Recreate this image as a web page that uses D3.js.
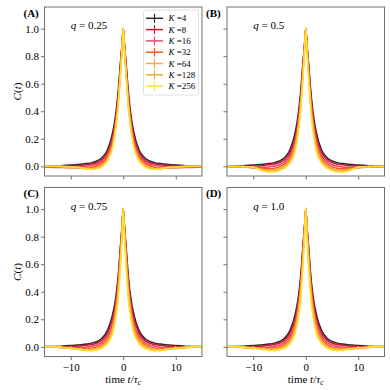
<!DOCTYPE html>
<html><head><meta charset="utf-8">
<script src="https://cdn.jsdelivr.net/npm/d3@7"></script>
<style>body{margin:0;background:#fff}svg{display:block}text{font-family:"Liberation Serif","Times New Roman",serif !important;fill:#000}</style>
</head><body><svg id="c" width="390" height="390"></svg>
<script>
const times = [-15,-12,-10,-8,-7,-6,-5,-4,-3,-2,-1.5,-1,-0.5,-0.25,0,0.25,0.5,1,1.5,2,3,4,5,6,7,8,10,12,15];
const Ks = [4,8,16,32,64,128,256];
const colors = ["#2b2b2b","#c8162a","#e9486c","#ff5420","#ffa54a","#e8b02c","#ffe12e"];
const panelLabels = ["(A)","(B)","(C)","(D)"];
const qValues = ["0.25","0.5","0.75","1.0"];
const xTicks = [-10,0,10];
const yTicks = [0,0.2,0.4,0.6,0.8,1.0];

const a4 = [.002,.005,.009,.015,.02,.027,.04,.065,.12,.25,.36,.53,.77,.88,1,.88,.77,.53,.36,.25,.12,.065,.04,.027,.02,.015,.009,.005,.002];
const a8 = [0,0,.003,.008,.012,.018,.028,.05,.1,.22,.33,.5,.75,.87,1,.87,.75,.5,.33,.22,.1,.05,.028,.018,.012,.008,.003,0,0];
const a16 = [-.004,-.008,-.006,-.002,.002,.007,.017,.038,.085,.2,.31,.48,.73,.86,1,.86,.73,.48,.31,.2,.085,.038,.017,.007,.002,-.002,-.006,-.008,-.004];
const a32 = [-.002,-.005,-.01,-.012,-.012,-.008,.004,.025,.07,.18,.29,.46,.72,.85,1,.85,.72,.46,.29,.18,.07,.025,.004,-.008,-.012,-.012,-.01,-.005,-.002];
const a64 = [0,-.003,-.007,-.014,-.018,-.016,-.008,.012,.055,.16,.27,.44,.7,.84,1,.84,.7,.44,.27,.16,.055,.012,-.008,-.016,-.018,-.014,-.007,-.003,0];
const a128 = [0,0,-.005,-.012,-.018,-.02,-.014,.005,.045,.15,.26,.43,.69,.83,1,.83,.69,.43,.26,.15,.045,.005,-.014,-.02,-.018,-.012,-.005,0,0];
const a256 = [0,0,-.004,-.01,-.018,-.022,-.018,0,.04,.14,.25,.42,.68,.83,1,.83,.68,.42,.25,.14,.04,0,-.018,-.022,-.018,-.01,-.004,0,0];

const b4 = [.002,.005,.009,.015,.02,.027,.04,.065,.12,.25,.36,.53,.77,.88,1,.88,.77,.53,.36,.25,.12,.065,.04,.027,.02,.015,.009,.005,.002];
const b8 = [0,.001,.003,.007,.011,.017,.028,.05,.1,.22,.33,.5,.75,.87,1,.87,.75,.5,.33,.22,.1,.05,.028,.017,.011,.007,.003,.001,0];
const b16 = [-.002,-.004,-.006,-.006,-.004,.002,.012,.033,.08,.19,.3,.47,.73,.86,1,.86,.73,.47,.3,.19,.08,.033,.012,.002,-.004,-.006,-.006,-.004,-.002];
const b32 = [0,-.004,-.01,-.016,-.018,-.014,-.004,.018,.06,.17,.28,.45,.71,.85,1,.85,.71,.45,.28,.17,.06,.018,-.004,-.014,-.018,-.016,-.01,-.004,0];
const b64 = [0,-.004,-.01,-.024,-.028,-.025,-.015,.006,.045,.15,.26,.43,.69,.84,1,.84,.69,.43,.26,.15,.045,.006,-.015,-.025,-.028,-.024,-.01,-.004,0];
const b128 = [0,-.002,-.008,-.03,-.035,-.032,-.022,-.004,.035,.13,.24,.41,.68,.83,1,.83,.68,.41,.24,.13,.035,-.004,-.022,-.032,-.035,-.03,-.008,-.002,0];
const b256 = [0,-.001,-.005,-.035,-.042,-.04,-.03,-.012,.025,.11,.22,.39,.66,.82,1,.82,.66,.39,.22,.11,.025,-.012,-.03,-.04,-.042,-.035,-.005,-.001,0];

const c4 = [.002,.005,.009,.015,.02,.027,.04,.065,.12,.24,.34,.5,.75,.87,1,.87,.75,.5,.34,.24,.12,.065,.04,.027,.02,.015,.009,.005,.002];
const c8 = [0,.001,.003,.007,.011,.017,.028,.05,.1,.21,.31,.47,.73,.86,1,.86,.73,.47,.31,.21,.1,.05,.028,.017,.011,.007,.003,.001,0];
const c16 = [0,-.003,-.005,-.004,-.002,.004,.014,.035,.08,.18,.28,.44,.71,.85,1,.85,.71,.44,.28,.18,.08,.035,.014,.004,-.002,-.004,-.005,-.003,0];
const c32 = [0,-.004,-.009,-.013,-.013,-.01,0,.02,.06,.16,.26,.42,.69,.84,1,.84,.69,.42,.26,.16,.06,.02,0,-.01,-.013,-.013,-.009,-.004,0];
const c64 = [0,-.004,-.011,-.018,-.02,-.018,-.01,.008,.045,.14,.24,.4,.67,.83,1,.83,.67,.4,.24,.14,.045,.008,-.01,-.018,-.02,-.018,-.011,-.004,0];
const c128 = [0,-.003,-.01,-.02,-.025,-.024,-.017,0,.035,.12,.21,.37,.64,.81,1,.81,.64,.37,.21,.12,.035,0,-.017,-.024,-.025,-.02,-.01,-.003,0];
const c256 = [0,-.002,-.008,-.018,-.026,-.028,-.022,-.008,.025,.1,.19,.33,.6,.78,1,.78,.6,.33,.19,.1,.025,-.008,-.022,-.028,-.026,-.018,-.008,-.002,0];

const d4 = [.002,.005,.009,.015,.02,.027,.04,.065,.12,.24,.34,.5,.75,.87,1,.87,.75,.5,.34,.24,.12,.065,.04,.027,.02,.015,.009,.005,.002];
const d8 = [0,.001,.003,.007,.011,.017,.028,.05,.1,.21,.31,.47,.73,.86,1,.86,.73,.47,.31,.21,.1,.05,.028,.017,.011,.007,.003,.001,0];
const d16 = [0,-.003,-.005,-.004,-.002,.004,.014,.035,.08,.18,.28,.44,.71,.85,1,.85,.71,.44,.28,.18,.08,.035,.014,.004,-.002,-.004,-.005,-.003,0];
const d32 = [0,-.003,-.008,-.012,-.012,-.009,0,.02,.06,.16,.26,.42,.69,.84,1,.84,.69,.42,.26,.16,.06,.02,0,-.009,-.012,-.012,-.008,-.003,0];
const d64 = [0,-.003,-.009,-.016,-.018,-.017,-.01,.008,.045,.14,.24,.4,.67,.83,1,.83,.67,.4,.24,.14,.045,.008,-.01,-.017,-.018,-.016,-.009,-.003,0];
const d128 = [0,-.003,-.009,-.018,-.022,-.022,-.016,0,.035,.12,.21,.37,.64,.81,1,.81,.64,.37,.21,.12,.035,0,-.016,-.022,-.022,-.018,-.009,-.003,0];
const d256 = [0,-.002,-.007,-.016,-.024,-.026,-.02,-.008,.025,.1,.19,.33,.6,.78,1,.78,.6,.33,.19,.1,.025,-.008,-.02,-.026,-.024,-.016,-.007,-.002,0];

const errA = [.002,.002,.003,.003,.004,.004,.005];
const errB = [.002,.002,.003,.004,.005,.006,.007];
const errC = [.002,.003,.004,.006,.008,.01,.012];
const errD = [.002,.003,.004,.006,.008,.01,.012];

const panelSeries = [[a4,a8,a16,a32,a64,a128,a256],[b4,b8,b16,b32,b64,b128,b256],[c4,c8,c16,c32,c64,c128,c256],[d4,d8,d16,d32,d64,d128,d256]];
const panelErr = [errA,errB,errC,errD];

const FONT = '"Liberation Serif","Times New Roman",serif';
const svg = d3.select("#c");
const cols = [[44.5,202],[227,384.5]];
const rows = [[7,176],[187.5,356.5]];
const axisCol = "#707070";

panelSeries.forEach((series, p) => {
  const col = cols[p % 2], row = rows[Math.floor(p / 2)];
  const x = d3.scaleLinear().domain([-15,15]).range(col);
  const y = d3.scaleLinear().domain([-0.07,1.157]).range([row[1], row[0]]);
  const g = svg.append("g");
  const cid = "clip" + p;
  svg.append("clipPath").attr("id", cid).append("rect")
    .attr("x", col[0]).attr("y", row[0]).attr("width", col[1]-col[0]).attr("height", row[1]-row[0]);
  const plot = g.append("g").attr("clip-path", `url(#${cid})`);
  const line = d3.line().x(d => x(d[0])).y(d => y(d[1])).curve(d3.curveMonotoneX);
  series.forEach((vals, k) => {
    const pts = times.map((t, i) => [t, vals[i]]);
    const e = panelErr[p][k];
    plot.append("g").selectAll("line").data(pts).join("line")
      .attr("x1", d => x(d[0])).attr("x2", d => x(d[0]))
      .attr("y1", d => y(d[1] - e)).attr("y2", d => y(d[1] + e))
      .attr("stroke", colors[k]).attr("stroke-width", 1.2);
    plot.append("path").datum(pts).attr("d", line)
      .attr("fill", "none").attr("stroke", colors[k]).attr("stroke-width", 1.5);
  });
  g.append("rect").attr("x", col[0]).attr("y", row[0]).attr("width", col[1]-col[0]).attr("height", row[1]-row[0])
    .attr("fill", "none").attr("stroke", axisCol).attr("stroke-width", 1);
  const showY = p % 2 === 0, showX = p >= 2;
  const xa = g.append("g").attr("transform", `translate(0,${row[1]})`)
    .call(d3.axisBottom(x).tickValues(xTicks).tickSize(3.5).tickSizeOuter(0)
      .tickFormat(showX ? (d => d < 0 ? "\u2212" + Math.abs(d) : d) : ""));
  const ya = g.append("g").attr("transform", `translate(${col[0]},0)`)
    .call(d3.axisLeft(y).tickValues(yTicks).tickSize(3.5).tickSizeOuter(0)
      .tickFormat(showY ? d3.format(".1f") : ""));
  [xa, ya].forEach(a => {
    a.attr("font-family", FONT).attr("font-size", 11);
    a.select(".domain").remove();
    a.selectAll(".tick line").attr("stroke", axisCol);
    a.selectAll("text").attr("fill", "#000");
  });
  ya.selectAll("text").attr("x", -5.5);
  xa.selectAll("text").attr("y", 6.5);
  svg.append("text").attr("x", col[0] - 21).attr("y", row[0] + 9.5)
    .style("font-size", "11px").style("font-weight", "bold").text(panelLabels[p]);
  const qt = svg.append("text").attr("x", x(-10)).attr("y", y(1.0) + 0.5).style("font-size", "11px");
  qt.append("tspan").style("font-style", "italic").text("q");
  qt.append("tspan").text(" = " + qValues[p]);
  if (showY) {
    const yl = svg.append("text").attr("transform", `translate(${col[0]-24},${(row[0]+row[1])/2}) rotate(-90)`)
      .attr("text-anchor", "middle").style("font-size", "11px");
    yl.append("tspan").style("font-style", "italic").text("C");
    yl.append("tspan").text("(");
    yl.append("tspan").style("font-style", "italic").text("t");
    yl.append("tspan").text(")");
  }
  if (showX) {
    const xl = svg.append("text").attr("x", (col[0]+col[1])/2).attr("y", row[1] + 26)
      .attr("text-anchor", "middle").style("font-size", "11px");
    xl.append("tspan").text("time ");
    xl.append("tspan").style("font-style", "italic").text("t");
    xl.append("tspan").text("/");
    xl.append("tspan").style("font-style", "italic").text("\u03c4");
    xl.append("tspan").style("font-style", "italic").style("font-size", "8px").attr("dy", 2).text("c");
  }
  if (p === 0) {
    const lg = svg.append("g");
    lg.append("rect").attr("x", 143.5).attr("y", 10).attr("width", 55).attr("height", 85).attr("rx", 2)
      .attr("fill", "#fff").attr("fill-opacity", 0.8).attr("stroke", "#d8d8d8").attr("stroke-width", 0.8);
    Ks.forEach((K, k) => {
      const cy = 18.3 + k * 11.3;
      lg.append("line").attr("x1", 146).attr("x2", 163).attr("y1", cy).attr("y2", cy)
        .attr("stroke", colors[k]).attr("stroke-width", 1.5);
      lg.append("line").attr("x1", 154.5).attr("x2", 154.5).attr("y1", cy - 4.5).attr("y2", cy + 4.5)
        .attr("stroke", colors[k]).attr("stroke-width", 1.2);
      const tt = lg.append("text").attr("x", 168.5).attr("y", cy + 3).style("font-size", "9px");
      tt.append("tspan").style("font-style", "italic").text("K");
      tt.append("tspan").text(" =" + K);
    });
  }
});
</script></body></html>
